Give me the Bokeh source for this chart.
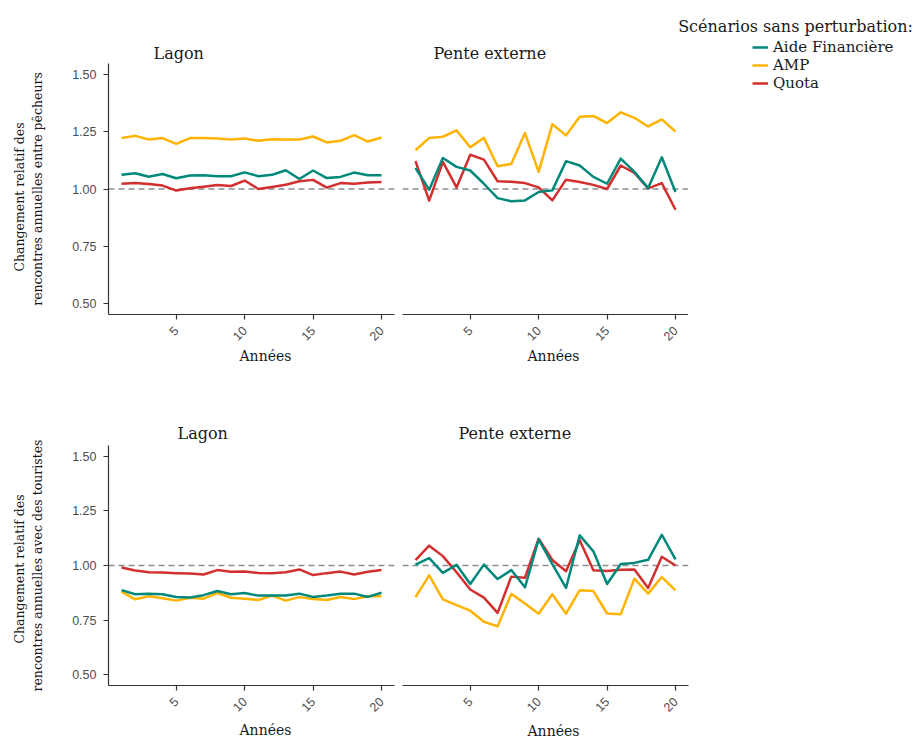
from math import pi
from bokeh.plotting import figure
from bokeh.models import (Range1d, FixedTicker, NumeralTickFormatter, Span, Title, Label,
                          Legend, LegendItem)
from bokeh.layouts import column, row
from bokeh.embed import file_html
from bokeh.resources import INLINE

# ---------------- data ----------------
years = list(range(1, 21))

# Rencontres annuelles entre pêcheurs
pecheurs_lagon_aide = [1.062, 1.069, 1.054, 1.066, 1.047, 1.059, 1.060, 1.056, 1.056, 1.073,
                       1.056, 1.062, 1.082, 1.044, 1.081, 1.048, 1.053, 1.072, 1.060, 1.060]
pecheurs_lagon_amp = [1.223, 1.233, 1.217, 1.223, 1.198, 1.223, 1.223, 1.221, 1.217, 1.221,
                      1.211, 1.218, 1.217, 1.217, 1.230, 1.204, 1.211, 1.236, 1.208, 1.226]
pecheurs_lagon_quota = [1.023, 1.026, 1.022, 1.015, 0.993, 1.003, 1.010, 1.018, 1.013, 1.037,
                        1.000, 1.009, 1.019, 1.034, 1.040, 1.006, 1.026, 1.023, 1.029, 1.031]

pecheurs_pente_aide = [1.092, 0.997, 1.136, 1.097, 1.081, 1.023, 0.960, 0.946, 0.950, 0.987,
                       0.994, 1.122, 1.103, 1.053, 1.023, 1.133, 1.075, 1.004, 1.139, 0.987]
pecheurs_pente_amp = [1.170, 1.224, 1.229, 1.257, 1.183, 1.224, 1.100, 1.110, 1.245, 1.075,
                      1.284, 1.235, 1.317, 1.320, 1.289, 1.336, 1.312, 1.274, 1.305, 1.252]
pecheurs_pente_quota = [1.122, 0.949, 1.119, 1.007, 1.150, 1.129, 1.034, 1.032, 1.026, 1.007,
                        0.950, 1.041, 1.031, 1.018, 1.000, 1.103, 1.070, 1.003, 1.026, 0.909]

# Rencontres annuelles avec des touristes
touristes_lagon_aide = [0.887, 0.868, 0.870, 0.868, 0.856, 0.853, 0.864, 0.883, 0.868, 0.874,
                        0.862, 0.862, 0.862, 0.871, 0.856, 0.862, 0.870, 0.871, 0.856, 0.875]
touristes_lagon_amp = [0.880, 0.845, 0.859, 0.850, 0.839, 0.852, 0.848, 0.874, 0.852, 0.848,
                       0.842, 0.862, 0.839, 0.855, 0.846, 0.842, 0.856, 0.846, 0.859, 0.859]
touristes_lagon_quota = [0.991, 0.977, 0.969, 0.968, 0.965, 0.963, 0.959, 0.979, 0.971, 0.972,
                         0.966, 0.965, 0.969, 0.982, 0.956, 0.965, 0.972, 0.959, 0.971, 0.979]

touristes_pente_aide = [1.004, 1.034, 0.966, 1.003, 0.915, 1.004, 0.938, 0.979, 0.900, 1.120,
                        1.006, 0.897, 1.138, 1.065, 0.915, 1.007, 1.012, 1.026, 1.141, 1.028]
touristes_pente_amp = [0.855, 0.955, 0.845, 0.818, 0.793, 0.742, 0.721, 0.870, 0.826, 0.779,
                       0.868, 0.779, 0.887, 0.883, 0.780, 0.777, 0.940, 0.871, 0.947, 0.886]
touristes_pente_quota = [1.025, 1.091, 1.043, 0.969, 0.890, 0.853, 0.783, 0.949, 0.944, 1.123,
                         1.025, 0.974, 1.116, 0.978, 0.975, 0.981, 0.982, 0.897, 1.040, 1.000]

series_names = ["Aide Financière", "AMP", "Quota"]
x_ticks = [5, 10, 15, 20]
y_ticks = [0.50, 0.75, 1.00, 1.25, 1.50]
reference_level = 1.0

# ---------------- style ----------------
COLORS = {"Aide Financière": "#00897B", "AMP": "#FFB300", "Quota": "#D32F2F"}
SERIF = "DejaVu Serif"
SANS = "Liberation Sans"
TEXT = "#1a1a1a"
AXIS = "#333333"
FRAME_W, FRAME_H = 286, 251
HEADER_H = 38


def make_panel(aide, amp, quota, left, top_border, bottom_border, right_border, ylabel=None):
    lb = 108 if left else 4
    p = figure(width=lb + FRAME_W + right_border, height=top_border + FRAME_H + bottom_border,
               x_range=Range1d(0.05, 20.95), y_range=Range1d(0.45, 1.55),
               output_backend="svg", toolbar_location=None,
               y_axis_location="left" if left else None,
               min_border_left=lb, min_border_right=right_border,
               min_border_top=top_border, min_border_bottom=bottom_border)
    p.outline_line_color = None
    p.xgrid.visible = False
    p.ygrid.visible = False
    p.background_fill_color = "white"
    p.border_fill_color = "white"

    axes = [p.xaxis[0]] + ([p.yaxis[0]] if left else [])
    for ax in axes:
        ax.axis_line_color = AXIS
        ax.axis_line_width = 1.2
        ax.major_tick_line_color = AXIS
        ax.major_tick_line_width = 1.2
        ax.major_tick_out = 5
        ax.major_tick_in = 0
        ax.minor_tick_line_color = None
        ax.major_label_text_font = SANS
        ax.major_label_text_font_size = "12.5px"
        ax.major_label_text_color = "#4d4d4d"
    p.xaxis[0].ticker = FixedTicker(ticks=x_ticks)
    p.xaxis[0].major_label_orientation = pi / 4
    p.xaxis[0].major_label_standoff = 9
    if left:
        ya = p.yaxis[0]
        ya.ticker = FixedTicker(ticks=y_ticks)
        ya.formatter = NumeralTickFormatter(format="0.00")
        ya.major_label_standoff = 7
        if ylabel:
            ya.axis_label = ylabel
            ya.axis_label_text_font = SERIF
            ya.axis_label_text_font_size = "12.5px"
            ya.axis_label_text_font_style = "normal"
            ya.axis_label_text_color = TEXT
            ya.axis_label_standoff = 24

    span = Span(location=reference_level, dimension="width", line_color="#8c8c8c",
                line_dash="6 4", line_width=1.4, level="underlay")
    p.add_layout(span)

    rends = {}
    for name, vals in (("Quota", quota), ("AMP", amp), ("Aide Financière", aide)):
        rends[name] = p.line(years, vals, line_color=COLORS[name], line_width=2.5,
                             line_join="round")
    return p, rends


def title(p, text, place, offset, standoff, size):
    p.add_layout(Title(text=text, align="left", offset=offset, standoff=standoff,
                       text_font=SERIF, text_font_size=size, text_font_style="normal",
                       text_color=TEXT), place)


def blank(width, height, x_range=(0, 1), y_range=(0, 1), left=0):
    p = figure(width=width, height=height, x_range=Range1d(*x_range), y_range=Range1d(*y_range),
               output_backend="svg", toolbar_location=None,
               x_axis_location=None, y_axis_location=None,
               min_border_left=left, min_border_right=0, min_border_top=0, min_border_bottom=0)
    p.outline_line_color = None
    for g in p.grid:
        g.visible = False
    return p


# Top row
f1, _ = make_panel(pecheurs_lagon_aide, pecheurs_lagon_amp, pecheurs_lagon_quota,
                   True, 63, 61, 4, "rencontres annuelles entre pêcheurs")
f2, r2 = make_panel(pecheurs_pente_aide, pecheurs_pente_amp, pecheurs_pente_quota,
                    False, 63 - HEADER_H, 61, 0)
# Bottom row
f3, _ = make_panel(touristes_lagon_aide, touristes_lagon_amp, touristes_lagon_quota,
                   True, 70, 44, 4, "rencontres annuelles avec des touristes")
f4, _ = make_panel(touristes_pente_aide, touristes_pente_amp, touristes_pente_quota,
                   False, 70, 44, 4)

# Panel titles
title(f1, "Lagon", "above", 45, 1, "16px")
title(f2, "Pente externe", "above", 31, 1, "16px")
title(f3, "Lagon", "above", 69, 5, "16px")
title(f4, "Pente externe", "above", 56, 5, "16px")

# x-axis titles
for f, off, so in ((f1, 131, -4), (f2, 125, -4), (f3, 131, 3), (f4, 125, 4)):
    title(f, "Années", "below", off, so, "14px")

# first line of the y-axis titles
title(f1, "Changement relatif des", "left", 43, 2, "12.5px")
title(f3, "Changement relatif des", "left", 42, 2, "12.5px")

# Legend header (title) and legend box
header = blank(519, HEADER_H)
header.add_layout(Label(x=397, y=HEADER_H - 26, x_units="screen", y_units="screen",
                        text="Scénarios sans perturbation:", text_font=SERIF,
                        text_font_size="16px", text_color=TEXT, text_align="center",
                        text_baseline="alphabetic"))

# key lines reuse the "Pente externe" series, kept outside this box's visible range
legend_fig = blank(229, 375 - HEADER_H, x_range=(100, 101), y_range=(100, 101), left=64)
key_series = {"Aide Financière": pecheurs_pente_aide, "AMP": pecheurs_pente_amp,
              "Quota": pecheurs_pente_quota}
key_rends = [legend_fig.line(years, key_series[n], line_color=COLORS[n], line_width=2.5)
             for n in series_names]
legend = Legend(items=[LegendItem(label=n, renderers=[r]) for n, r in zip(series_names, key_rends)],
                location="top_left", orientation="vertical", padding=0, margin=0,
                spacing=0, glyph_width=16, glyph_height=18, label_height=18,
                label_standoff=5, label_text_font=SERIF, label_text_font_size="15px",
                label_text_color=TEXT, border_line_color=None, background_fill_alpha=0)
legend_fig.add_layout(legend)

layout = column(row(f1, column(header, row(f2, column(legend_fig)))), row(f3, f4))

open("out.html", "w").write(file_html(layout, INLINE))
